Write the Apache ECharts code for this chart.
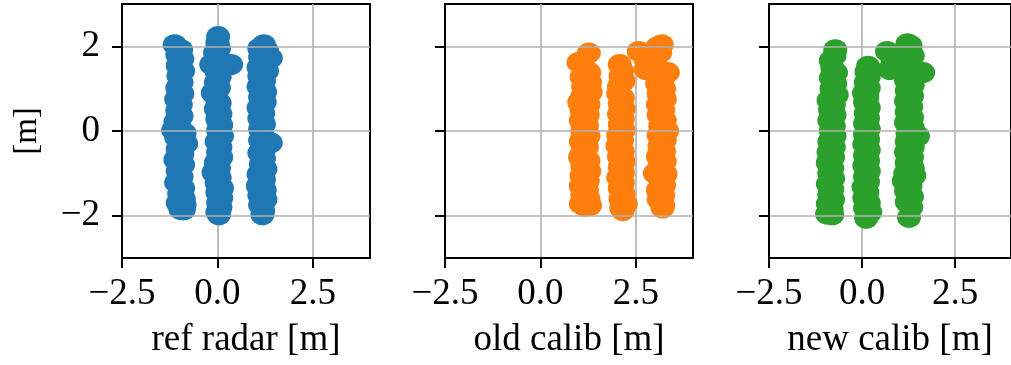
<!DOCTYPE html>
<html>
<head>
<meta charset="utf-8">
<script src="https://cdn.jsdelivr.net/npm/echarts@6/dist/echarts.min.js"></script>
<style>
html,body{margin:0;padding:0;background:#fff;}
#chart{width:1011px;height:365px;}
</style>
</head>
<body>
<div id="chart"></div>
<script>
// ---- data (metres) ----
const panelNames = ['ref radar [m]', 'old calib [m]', 'new calib [m]'];
const panelColors = ['#1f77b4', '#ff7f0e', '#2ca02c'];

const xTicks = [-2.5, 0, 2.5];
const xTickLabels = ['\u22122.5', '0.0', '2.5'];
const yTicks = [-2, 0, 2];
const yTickLabels = ['\u22122', '0', '2'];
const yAxisName = '[m]';

const refRadar = [
  // left lane
  [-1.12,2.04],[-0.95,1.92],[-1.05,1.80],[-0.92,1.70],[-1.04,1.55],[-0.90,1.42],[-1.02,1.30],[-0.94,1.15],
  [-1.05,1.02],[-0.92,0.88],[-1.08,0.75],[-0.96,0.62],[-1.05,0.48],[-0.94,0.35],[-1.10,0.22],[-1.00,0.10],
  [-1.16,0.02],[-0.86,-0.05],[-1.08,-0.15],[-0.82,-0.30],[-1.04,-0.42],[-0.92,-0.55],[-1.10,-0.68],[-0.90,-0.80],
  [-1.04,-0.95],[-0.94,-1.08],[-1.08,-1.22],[-0.90,-1.35],[-1.00,-1.48],[-0.88,-1.60],[-1.04,-1.70],[-0.86,-1.75],
  [-0.97,-1.85],[-0.88,-1.86],
  // middle lane
  [0.02,2.23],[0.00,2.08],[0.04,1.95],[-0.06,1.85],[0.02,1.72],[-0.16,1.57],[0.36,1.57],[0.08,1.50],
  [-0.02,1.40],[0.06,1.28],[-0.04,1.15],[0.04,1.02],[-0.12,0.90],[-0.02,0.78],[0.06,0.66],[-0.04,0.52],
  [0.08,0.40],[0.00,0.28],[0.10,0.14],[0.02,0.02],[0.12,-0.12],[-0.02,-0.25],[0.08,-0.38],[0.02,-0.50],
  [0.10,-0.62],[-0.04,-0.75],[0.04,-0.88],[-0.10,-0.98],[0.06,-1.10],[-0.02,-1.22],[0.12,-1.35],[0.00,-1.45],
  [0.10,-1.58],[0.02,-1.70],[0.08,-1.80],[0.00,-1.92],[0.04,-1.98],
  // right lane
  [1.22,2.04],[1.10,1.95],[1.30,1.90],[1.40,1.72],[1.12,1.75],[1.25,1.60],[1.08,1.50],[1.30,1.42],
  [1.10,1.30],[1.22,1.18],[1.08,1.05],[1.25,0.92],[1.12,0.80],[1.24,0.68],[1.08,0.55],[1.20,0.42],
  [1.10,0.30],[1.22,0.16],[1.12,0.04],[1.18,-0.10],[1.40,-0.28],[1.12,-0.22],[1.24,-0.40],[1.10,-0.52],
  [1.22,-0.65],[1.14,-0.78],[1.26,-0.90],[1.08,-1.02],[1.22,-1.15],[1.06,-1.30],[1.24,-1.40],[1.10,-1.52],
  [1.26,-1.62],[1.12,-1.75],[1.20,-1.88],[1.18,-1.98]
];

const oldCalib = [
  // left lane
  [1.27,1.84],[1.00,1.62],[1.14,1.52],[1.28,1.38],[1.08,1.28],[1.30,1.15],[1.12,1.05],[1.32,0.92],
  [1.10,0.82],[1.02,0.68],[1.26,0.62],[1.08,0.50],[1.24,0.38],[1.06,0.25],[1.22,0.12],[1.10,0.00],
  [1.26,-0.12],[1.06,-0.25],[1.22,-0.38],[1.10,-0.50],[1.04,-0.62],[1.26,-0.70],[1.10,-0.82],[1.28,-0.95],
  [1.08,-1.05],[1.24,-1.18],[1.06,-1.30],[1.22,-1.40],[1.10,-1.52],[1.26,-1.60],[1.06,-1.72],[1.30,-1.76],
  [1.16,-1.78],
  // middle lane
  [2.08,1.57],[2.14,1.42],[2.10,1.30],[2.18,1.18],[2.06,1.05],[2.04,0.88],[2.16,0.78],[2.08,0.65],
  [2.18,0.52],[2.06,0.40],[2.16,0.28],[2.08,0.15],[2.18,0.02],[2.04,-0.10],[2.14,-0.22],[2.02,-0.35],
  [2.16,-0.48],[2.06,-0.60],[2.18,-0.72],[2.08,-0.85],[2.16,-0.98],[2.04,-1.10],[2.16,-1.22],[2.08,-1.35],
  [2.18,-1.48],[2.10,-1.60],[2.24,-1.72],[2.12,-1.82],[2.16,-1.88],
  // right lane
  [2.58,1.88],[2.75,1.70],[3.06,1.98],[3.18,2.04],[3.14,1.85],[2.76,1.45],[3.00,1.60],[3.34,1.38],
  [3.10,1.42],[3.22,1.25],[3.06,1.12],[3.24,1.00],[3.10,0.88],[3.26,0.75],[3.08,0.62],[3.22,0.50],
  [3.10,0.38],[3.26,0.25],[3.14,0.12],[3.32,0.00],[3.10,-0.10],[3.26,-0.22],[3.12,-0.35],[3.24,-0.48],
  [3.08,-0.60],[3.26,-0.72],[3.12,-0.85],[3.00,-1.00],[3.28,-1.02],[3.14,-1.15],[3.24,-1.28],[3.08,-1.40],
  [3.22,-1.52],[3.10,-1.62],[3.22,-1.75],[3.20,-1.82]
];

const newCalib = [
  // left lane
  [-0.72,1.92],[-0.84,1.66],[-0.74,1.78],[-0.80,1.50],[-0.70,1.38],[-0.84,1.25],[-0.72,1.12],[-0.82,1.00],
  [-0.68,0.85],[-0.90,0.72],[-0.76,0.62],[-0.86,0.50],[-0.74,0.38],[-0.88,0.25],[-0.76,0.12],[-0.84,0.00],
  [-0.74,-0.12],[-0.88,-0.25],[-0.76,-0.38],[-0.90,-0.50],[-0.78,-0.62],[-0.92,-0.75],[-0.80,-0.88],[-0.88,-1.00],
  [-0.78,-1.12],[-0.92,-1.25],[-0.80,-1.38],[-0.88,-1.50],[-0.78,-1.62],[-0.92,-1.72],[-0.82,-1.85],[-0.94,-1.96],
  [-0.80,-1.98],
  // middle lane
  [0.16,1.53],[0.12,1.40],[0.18,1.28],[0.10,1.15],[0.18,1.02],[0.05,0.90],[0.14,0.80],[0.08,0.68],
  [0.18,0.55],[0.10,0.42],[0.16,0.30],[0.08,0.18],[0.18,0.05],[0.08,-0.08],[0.16,-0.20],[0.06,-0.32],
  [0.18,-0.45],[0.08,-0.58],[0.16,-0.70],[0.06,-0.82],[0.18,-0.95],[0.08,-1.08],[0.16,-1.20],[0.04,-1.32],
  [0.14,-1.45],[0.06,-1.58],[0.18,-1.70],[0.08,-1.82],[0.22,-1.92],[0.11,-2.06],
  // right lane
  [0.67,1.88],[0.74,1.45],[0.82,1.70],[1.22,2.06],[1.30,2.02],[1.10,1.85],[1.36,1.78],[1.00,1.60],
  [1.64,1.38],[1.22,1.50],[1.40,1.30],[1.18,1.20],[1.36,1.08],[1.20,0.95],[1.34,0.82],[1.18,0.70],
  [1.32,0.58],[1.20,0.45],[1.34,0.32],[1.18,0.20],[1.36,0.08],[1.22,-0.05],[1.50,-0.12],[1.20,-0.25],
  [1.36,-0.38],[1.18,-0.50],[1.34,-0.62],[1.20,-0.75],[1.36,-0.88],[1.16,-1.00],[1.40,-1.05],[1.12,-1.18],
  [1.30,-1.30],[1.18,-1.42],[1.34,-1.55],[1.20,-1.68],[1.32,-1.80],[1.26,-2.04]
];

const panelData = [refRadar, oldCalib, newCalib];

// ---- layout / style ----
const FONT = 'Liberation Serif';
const gridLefts = [122, 445, 769];
const GRID_W = 248, GRID_TOP = 4, GRID_H = 254;

function labelFor(ticks, labels) {
  return function (v) {
    for (let i = 0; i < ticks.length; i++) {
      if (Math.abs(ticks[i] - v) < 1e-9) return labels[i];
    }
    return '';
  };
}

const grids = [], xAxes = [], yAxes = [], series = [];
for (let i = 0; i < 3; i++) {
  grids.push({
    left: gridLefts[i], top: GRID_TOP, width: GRID_W, height: GRID_H,
    show: true, borderColor: '#000', borderWidth: 2, backgroundColor: 'transparent',
    containLabel: false
  });
  xAxes.push({
    type: 'value', gridIndex: i, min: -2.5, max: 4, interval: 2.5, z: 1,
    name: panelNames[i], nameLocation: 'middle', nameGap: 64,
    nameTextStyle: { fontFamily: FONT, fontSize: 37, color: '#000' },
    axisLine: { show: true, onZero: false, lineStyle: { color: '#000', width: 2 } },
    axisTick: { show: true, inside: false, length: 10, lineStyle: { color: '#000', width: 2 }, customValues: xTicks },
    axisLabel: { show: true, customValues: xTicks, formatter: labelFor(xTicks, xTickLabels),
      fontFamily: FONT, fontSize: 37, color: '#000', margin: 18, showMinLabel: true, showMaxLabel: true },
    splitLine: { show: true, lineStyle: { color: '#b0b0b0', width: 1.6 } }
  });
  yAxes.push({
    type: 'value', gridIndex: i, min: -3, max: 3, z: 3,
    name: i === 0 ? yAxisName : '', nameLocation: 'middle', nameGap: 78, nameRotate: 90,
    nameTextStyle: { fontFamily: FONT, fontSize: 33, color: '#000' },
    axisLine: { show: true, onZero: false, lineStyle: { color: '#000', width: 2 } },
    axisTick: { show: true, inside: false, length: 10, lineStyle: { color: '#000', width: 2 }, customValues: yTicks },
    axisLabel: { show: i === 0, customValues: yTicks, formatter: labelFor(yTicks, yTickLabels),
      fontFamily: FONT, fontSize: 37, color: '#000', margin: 22 },
    splitLine: { show: true, lineStyle: { color: '#b0b0b0', width: 1.6 } }
  });
  series.push({
    type: 'scatter', xAxisIndex: i, yAxisIndex: i, z: 2,
    data: panelData[i], symbol: 'circle', symbolSize: [24, 21],
    itemStyle: { color: panelColors[i], opacity: 1 },
    emphasis: { disabled: true }, animation: false
  });
}

const chart = echarts.init(document.getElementById('chart'), null, { renderer: 'canvas' });
chart.setOption({
  backgroundColor: '#fff',
  animation: false,
  grid: grids, xAxis: xAxes, yAxis: yAxes, series: series
});
</script>
</body>
</html>
